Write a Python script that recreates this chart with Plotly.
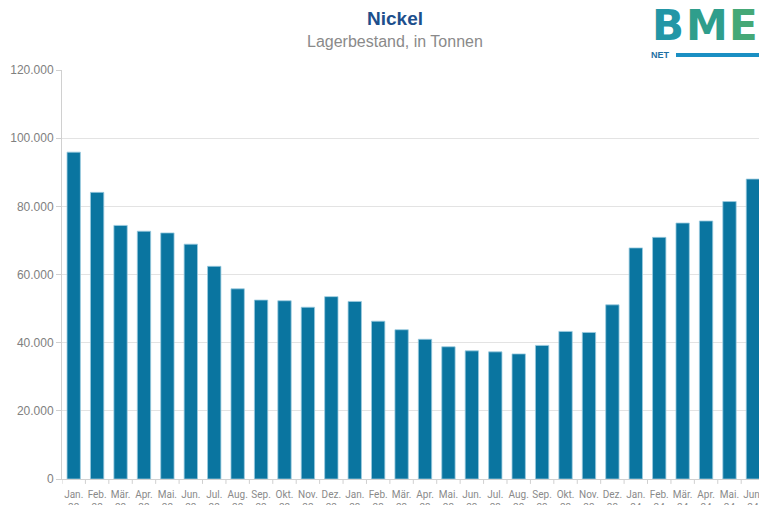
import plotly.graph_objects as go

months = ["Jan.", "Feb.", "Mär.", "Apr.", "Mai.", "Jun.", "Jul.", "Aug.", "Sep.", "Okt.", "Nov.", "Dez."]
years = ["22"] * 12 + ["23"] * 12 + ["24"] * 6
month_labels = months + months + months[:6]
categories = [f"{m}<br>{y}" for m, y in zip(month_labels, years)]

stock = [95900, 84100, 74400, 72700, 72200, 68900, 62400, 55800, 52500, 52300, 50400, 53500,
         52100, 46300, 43800, 41000, 38800, 37600, 37300, 36700, 39200, 43300, 43000, 51100,
         67800, 70900, 75100, 75700, 81400, 88000]

y_ticks = [0, 20000, 40000, 60000, 80000, 100000, 120000]
y_tick_text = ["0", "20.000", "40.000", "60.000", "80.000", "100.000", "120.000"]

title_text = "Nickel"
subtitle_text = "Lagerbestand, in Tonnen"
logo_letters = ["B", "M", "E"]

fig = go.Figure()
fig.add_trace(go.Bar(
    x=list(range(len(categories))),
    y=stock,
    width=0.57,
    marker=dict(color="#0a75a0", line=dict(color="#9ccbe0", width=0.8)),
    hoverinfo="y",
))

fig.update_layout(
    width=759, height=505,
    margin=dict(l=62, r=0, t=70, b=26),
    plot_bgcolor="white", paper_bgcolor="white",
    showlegend=False,
    xaxis=dict(
        range=[-0.5, 29.26],
        tickmode="array",
        tickvals=list(range(len(categories))),
        ticktext=categories,
        showgrid=False,
        showline=True, linecolor="#d0d0d0", linewidth=1,
        ticks="",
        ticklabelstandoff=6,
        ticklabeloverflow="allow",
        automargin=False,
        tickfont=dict(family="Roboto, Open Sans, sans-serif", size=10, color="#8a8a8a"),
        tickangle=0,
        zeroline=False,
    ),
    yaxis=dict(
        range=[0, 120000],
        tickvals=y_ticks, ticktext=y_tick_text,
        showgrid=True, gridcolor="#e3e3e3", gridwidth=1,
        showline=True, linecolor="#d0d0d0", linewidth=1,
        ticks="outside", ticklen=5, tickcolor="#d0d0d0",
        automargin=False,
        tickfont=dict(family="Liberation Sans, Arial, sans-serif", size=12, color="#808080"),
        zeroline=False,
    ),
)

# tick marks at category boundaries on the x axis
for b in range(len(categories) + 1):
    fig.add_shape(type="line", xref="x", yref="paper",
                  x0=b - 0.5, x1=b - 0.5, y0=0, y1=-0.012,
                  line=dict(color="#d0d0d0", width=1))

fig.add_annotation(text="<b>" + title_text + "</b>", xref="paper", yref="paper",
                   x=0.478, y=1.125, xanchor="center", yanchor="middle",
                   showarrow=False,
                   font=dict(family="Liberation Sans, Arial, sans-serif", size=19, color="#1d4f8c"))
fig.add_annotation(text=subtitle_text, xref="paper", yref="paper",
                   x=0.478, y=1.069, xanchor="center", yanchor="middle",
                   showarrow=False,
                   font=dict(family="Liberation Sans, Arial, sans-serif", size=16, color="#8a8a8a"))

# logo
logo_px = [668, 707, 743]
logo_colors = ["#2396a6", "#2f9e8c", "#45a877"]
for letter, px, col in zip(logo_letters, logo_px, logo_colors):
    fig.add_annotation(text="<b>" + letter + "</b>", xref="paper", yref="paper",
                       x=(px - 62) / 697, y=(479 - 26) / 409, xanchor="center", yanchor="middle",
                       showarrow=False,
                       font=dict(family="DejaVu Sans, sans-serif", size=42, color=col))
fig.add_annotation(text="<b>NET</b>", xref="paper", yref="paper",
                   x=(649 - 62) / 697, y=(479 - 55) / 409, xanchor="left", yanchor="middle",
                   showarrow=False,
                   font=dict(family="Liberation Sans, Arial, sans-serif", size=9, color="#1f6fa3"))
fig.add_shape(type="rect", xref="paper", yref="paper",
              x0=(676 - 62) / 697, x1=1.02, y0=(479 - 57) / 409, y1=(479 - 53) / 409,
              line=dict(width=0), fillcolor="#1a8fc3")

fig.write_html("out.html")
